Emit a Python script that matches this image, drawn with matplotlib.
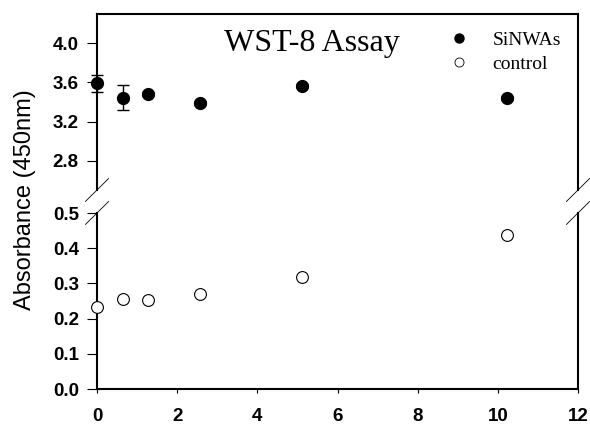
import numpy as np
import matplotlib.pyplot as plt
from matplotlib.lines import Line2D

# data
conc = [0.0, 0.64, 1.28, 2.56, 5.12, 10.24]
sinwas = [3.59, 3.445, 3.48, 3.39, 3.565, 3.44]
sinwas_err = [0.09, 0.125, 0.02, 0.02, 0.02, 0.02]
control = [0.234, 0.255, 0.253, 0.269, 0.317, 0.437]

top_ticks = [2.8, 3.2, 3.6, 4.0]
bot_ticks = [0.0, 0.1, 0.2, 0.3, 0.4, 0.5]
x_ticks = [0, 2, 4, 6, 8, 10, 12]

tick_font = {'family': 'Liberation Sans', 'weight': 'bold', 'size': 13.5}
serif = 'Liberation Serif'

fig = plt.figure(figsize=(5.9, 4.25), dpi=100)
ax_top = fig.add_axes([97/590, 1 - 190/425, 481/590, 176/425])
ax_bot = fig.add_axes([97/590, 1 - 389/425, 481/590, 176/425])

ax_top.errorbar(conc, sinwas, yerr=sinwas_err, fmt='o', color='black',
                markersize=8.5, capsize=4.5, elinewidth=1, capthick=1,
                clip_on=False, zorder=5)
ax_bot.plot(conc, control, 'o', markerfacecolor='white', markeredgecolor='black',
            markersize=8.5, markeredgewidth=0.8, clip_on=False, zorder=5)

ax_top.set_xlim(0, 12)
ax_bot.set_xlim(0, 12)
ax_top.set_ylim(2.5, 4.3)
ax_bot.set_ylim(0, 0.5)

ax_top.set_yticks(top_ticks)
ax_top.set_yticklabels(['%.1f' % t for t in top_ticks], fontdict=tick_font)
ax_bot.set_yticks(bot_ticks)
ax_bot.set_yticklabels(['%.1f' % t for t in bot_ticks], fontdict=tick_font)
ax_bot.set_xticks(x_ticks)
ax_bot.set_xticklabels([str(t) for t in x_ticks], fontdict=tick_font)
ax_top.set_xticks([])

for ax in (ax_top, ax_bot):
    for s in ax.spines.values():
        s.set_linewidth(1.5)
    ax.tick_params(axis='y', direction='out', length=7, width=0.8, pad=6)
ax_bot.tick_params(axis='x', direction='out', length=3, width=0.8, pad=11)
ax_top.spines['bottom'].set_visible(False)
ax_bot.spines['top'].set_visible(False)

# break marks
dx, dy = 0.024, 0.065
kw = dict(color='black', linewidth=0.6, clip_on=False)
for xx in (0, 1):
    ax_top.plot([xx - dx, xx + dx], [-dy, dy], transform=ax_top.transAxes, **kw)
    ax_bot.plot([xx - dx, xx + dx], [1 - dy, 1 + dy], transform=ax_bot.transAxes, **kw)

ax_top.text(0.447, 0.83, 'WST-8 Assay', transform=ax_top.transAxes,
            ha='center', va='center', family=serif, fontsize=23)

handles = [Line2D([], [], marker='o', linestyle='none', color='black', markersize=6.5),
           Line2D([], [], marker='o', linestyle='none', markerfacecolor='white',
                  markeredgecolor='black', markeredgewidth=0.6, markersize=6.5)]
ax_top.legend(handles, ['SiNWAs', 'control'], loc='center left',
              bbox_to_anchor=(440/590, 1 - 52/425), bbox_transform=fig.transFigure,
              frameon=False, prop={'family': serif, 'size': 14},
              handlelength=1, handletextpad=1.2, labelspacing=0.3, borderpad=0)

fig.text(25/590, 1 - 200/425, 'Absorbance (450nm)', rotation=90,
         ha='center', va='center', family='Liberation Sans', fontsize=17)

plt.savefig('out.png', dpi=100)
